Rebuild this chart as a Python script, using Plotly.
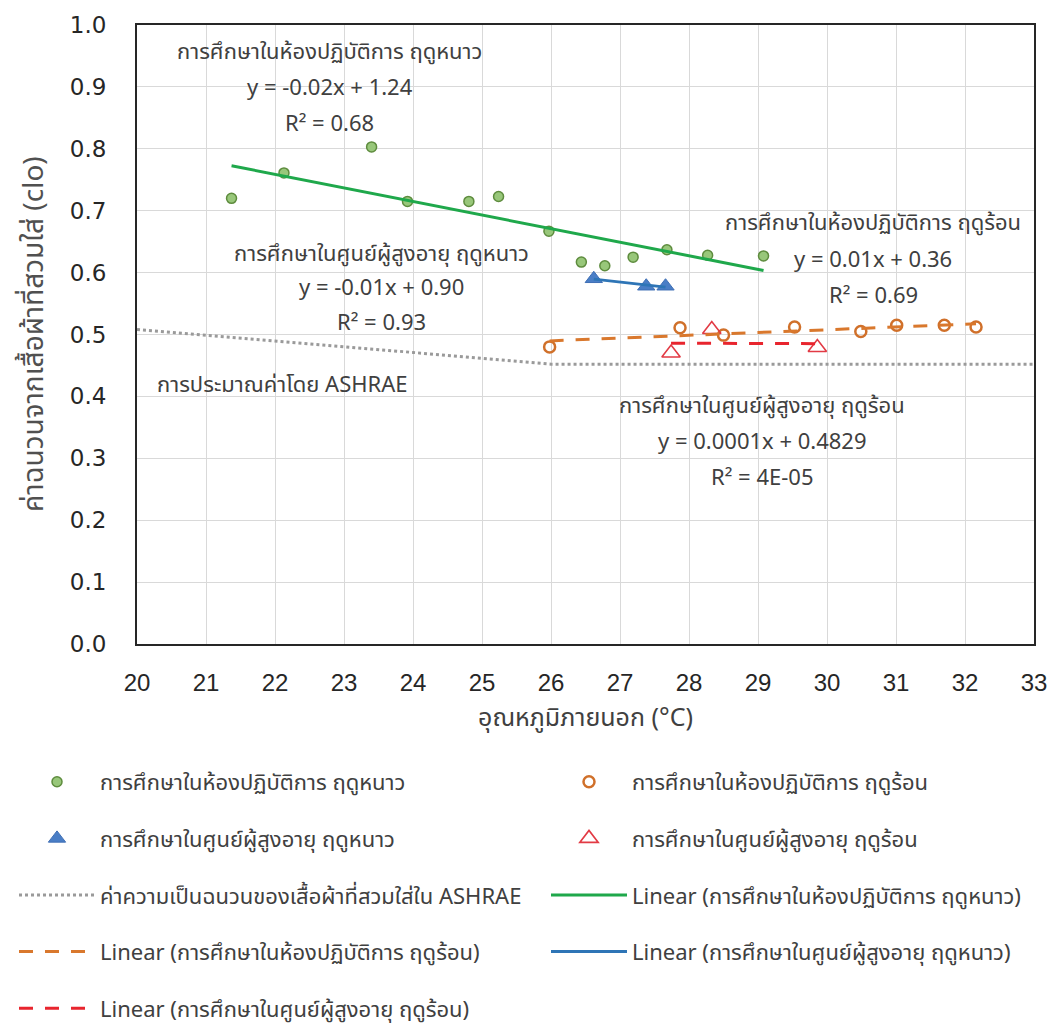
import numpy as np
import plotly.graph_objects as go

# ---------------- data ----------------
lab_winter_x = [21.37, 22.13, 23.40, 23.92, 24.81, 25.24, 25.97, 26.44, 26.78, 27.19, 27.68, 28.27, 29.08]
lab_winter_y = [0.720, 0.761, 0.803, 0.715, 0.715, 0.723, 0.667, 0.617, 0.611, 0.625, 0.637, 0.628, 0.627]

eld_winter_x = [26.62, 27.38, 27.66]
eld_winter_y = [0.590, 0.578, 0.578]

lab_summer_x = [25.98, 27.87, 28.50, 29.53, 30.49, 31.01, 31.70, 32.16]
lab_summer_y = [0.480, 0.511, 0.499, 0.512, 0.505, 0.515, 0.515, 0.512]

eld_summer_x = [27.74, 28.33, 29.86]
eld_summer_y = [0.470, 0.508, 0.479]

ashrae_x = [20, 22, 24, 26, 33]
ashrae_y = [0.508, 0.490, 0.471, 0.452, 0.452]

x_ticks = list(range(20, 34))
y_ticks = [round(i * 0.1, 1) for i in range(11)]

name_lw = "การศึกษาในห้องปฏิบัติการ ฤดูหนาว"
name_ls = "การศึกษาในห้องปฏิบัติการ ฤดูร้อน"
name_ew = "การศึกษาในศูนย์ผู้สูงอายุ ฤดูหนาว"
name_es = "การศึกษาในศูนย์ผู้สูงอายุ ฤดูร้อน"
name_ash = "ค่าความเป็นฉนวนของเสื้อผ้าที่สวมใส่ใน ASHRAE"

# equation label blocks: (lines, x centre, y of each line) in data units
eq_blocks = [
    ((name_lw, "y = -0.02x + 1.24", "R² = 0.68"), 22.79, (0.956, 0.898, 0.840)),
    ((name_ew, "y = -0.01x + 0.90", "R² = 0.93"), 23.55, (0.630, 0.575, 0.517)),
    ((name_ls, "y = 0.01x + 0.36", "R² = 0.69"), 30.67, (0.680, 0.620, 0.561)),
    ((name_es, "y = 0.0001x + 0.4829", "R² = 4E-05"), 29.06, (0.384, 0.326, 0.268)),
]
ashrae_label = "การประมาณค่าโดย ASHRAE"
x_title = "อุณหภูมิภายนอก (°C)"
y_title = "ค่าฉนวนจากเสื้อผ้าที่สวมใส่ (clo)"

FONT = "Tahoma, 'Leelawadee UI', 'Noto Sans Thai', 'Noto Sans', 'Open Sans', sans-serif"
TXT = "#404040"


def trend(xs, ys):
    k, b = np.polyfit(xs, ys, 1)
    xx = np.array([min(xs), max(xs)])
    return xx, k * xx + b


fig = go.Figure()

fig.add_trace(go.Scatter(x=lab_winter_x, y=lab_winter_y, mode="markers", name=name_lw,
                         marker=dict(symbol="circle", size=10, color="#98C77A",
                                     line=dict(color="#5E8C3E", width=1.5)),
                         legend="legend", legendgroup="a"))
fig.add_trace(go.Scatter(x=eld_winter_x, y=eld_winter_y, mode="markers", name=name_ew,
                         marker=dict(symbol="triangle-up", size=15, color="#4A7EC6",
                                     line=dict(color="#3F6FB5", width=1)),
                         legend="legend", legendgroup="b"))
fig.add_trace(go.Scatter(x=lab_summer_x, y=lab_summer_y, mode="markers", name=name_ls,
                         marker=dict(symbol="circle-open", size=11, color="#D0702A",
                                     line=dict(color="#D0702A", width=2.5)),
                         legend="legend2", legendgroup="f"))
fig.add_trace(go.Scatter(x=eld_summer_x, y=eld_summer_y, mode="markers", name=name_es,
                         marker=dict(symbol="triangle-up-open", size=16, color="#E23A44",
                                     line=dict(color="#E23A44", width=1.6)),
                         legend="legend2", legendgroup="g"))

fig.add_trace(go.Scatter(x=ashrae_x, y=ashrae_y, mode="lines", name=name_ash,
                         line=dict(color="#9A9A9A", width=3, dash="dot"),
                         legend="legend", legendgroup="c"))

tx, ty = trend(lab_winter_x, lab_winter_y)
fig.add_trace(go.Scatter(x=tx, y=ty, mode="lines", name="Linear (" + name_lw + ")",
                         line=dict(color="#1FA84B", width=3),
                         legend="legend2", legendgroup="h"))
tx, ty = trend(lab_summer_x, lab_summer_y)
fig.add_trace(go.Scatter(x=tx, y=ty, mode="lines", name="Linear (" + name_ls + ")",
                         line=dict(color="#D9782D", width=3, dash="14px,12px"),
                         legend="legend", legendgroup="d"))
tx, ty = trend(eld_winter_x, eld_winter_y)
fig.add_trace(go.Scatter(x=tx, y=ty, mode="lines", name="Linear (" + name_ew + ")",
                         line=dict(color="#2E75B6", width=3),
                         legend="legend2", legendgroup="i"))
tx, ty = trend(eld_summer_x, eld_summer_y)
fig.add_trace(go.Scatter(x=tx, y=ty, mode="lines", name="Linear (" + name_es + ")",
                         line=dict(color="#E8252E", width=3, dash="14px,12px"),
                         legend="legend", legendgroup="e"))

W, H = 1049, 1027
ml, mr, mt, mb = 137, 15, 25, 383
pw, ph = W - ml - mr, H - mt - mb

ann = []
for lines, ax, ays in eq_blocks:
    for t, ay in zip(lines, ays):
        ann.append(dict(x=ax, y=ay, xref="x", yref="y", showarrow=False, text=t,
                        font=dict(family=FONT, size=22, color=TXT),
                        xanchor="center", yanchor="middle"))
ann.append(dict(x=20.26, y=0.418, xref="x", yref="y", xanchor="left", yanchor="middle",
                showarrow=False, text=ashrae_label,
                font=dict(family=FONT, size=22, color=TXT)))
# y-axis title as rotated annotation
ann.append(dict(x=(34 - ml) / pw, y=(H - mb - 334) / ph, xref="paper", yref="paper",
                showarrow=False, text=y_title, textangle=-90,
                xanchor="center", yanchor="middle",
                font=dict(family=FONT, size=28, color="#505050")))

leg_common = dict(orientation="v", traceorder="grouped", tracegroupgap=25,
                  font=dict(family=FONT, size=22, color=TXT), bgcolor="rgba(0,0,0,0)",
                  itemwidth=76, xanchor="left", yanchor="top", itemclick=False,
                  xref="container", yref="container")

fig.update_layout(
    width=W, height=H,
    margin=dict(l=ml, r=mr, t=mt, b=mb, autoexpand=False),
    paper_bgcolor="white", plot_bgcolor="white",
    font=dict(family=FONT, color=TXT),
    showlegend=True,
    legend=dict(x=14 / W, y=1 - 761 / H, **leg_common),
    legend2=dict(x=546 / W, y=1 - 761 / H, **leg_common),
    annotations=ann,
    xaxis=dict(range=[20, 33], tickvals=x_ticks, ticktext=[str(v) for v in x_ticks],
               showgrid=True, gridcolor="#D9D9D9", gridwidth=1, zeroline=False,
               showline=True, linecolor="#262626", linewidth=2, mirror=True,
               ticks="", ticklabelstandoff=16, automargin=False,
               tickfont=dict(family="'Liberation Sans', Arial, sans-serif", size=24, color="#262626"),
               title=dict(text=x_title, font=dict(family=FONT, size=25, color=TXT), standoff=14)),
    yaxis=dict(range=[0, 1], tickvals=y_ticks, ticktext=[f"{v:.1f}" for v in y_ticks],
               showgrid=True, gridcolor="#D9D9D9", gridwidth=1, zeroline=False,
               showline=True, linecolor="#262626", linewidth=2, mirror=True,
               ticks="", ticklabelstandoff=24, automargin=False,
               tickfont=dict(family="'DejaVu Sans', Verdana, sans-serif", size=23, color="#262626")),
)

fig.write_html("out.html", config={"displayModeBar": False},
               post_script="document.body.style.margin='0px';")
